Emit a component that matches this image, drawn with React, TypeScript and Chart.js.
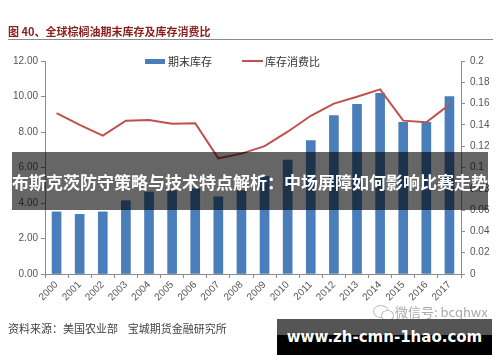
import React, { useEffect, useRef } from "react";
import { Chart, registerables } from "chart.js";

Chart.register(...registerables);

const years = ["2000","2001","2002","2003","2004","2005","2006","2007","2008","2009","2010","2011","2012","2013","2014","2015","2016","2017"];
const endingStocks = [3.5, 3.36, 3.5, 4.13, 4.62, 4.7, 4.8, 4.35, 4.7, 5.5, 6.42, 7.51, 8.92, 9.56, 10.18, 8.55, 8.55, 9.99];
const stockToUse = [0.151, 0.14, 0.13, 0.144, 0.1446, 0.141, 0.1415, 0.1086, 0.113, 0.12, 0.1336, 0.1486, 0.16, 0.1665, 0.1734, 0.144, 0.1424, 0.159];
const barLabel = "期末库存";
const lineLabel = "库存消费比";
const titleText = "图 40、全球棕榈油期末库存及库存消费比";
const sourceText = "资料来源：美国农业部    宝城期货金融研究所";
const bannerText = "布斯克茨防守策略与技术特点解析：中场屏障如何影响比赛走势";
const wechatText = "微信号: bcqhwx";
const siteText = "www.zh-cmn-1hao.com";

const BLUE = "#4A7EBB";
const RED = "#C0504D";
const AXIS = "#8c8c8c";
const TICK = "#555555";

export default function App() {
  const ref = useRef<HTMLCanvasElement | null>(null);
  useEffect(() => {
    if (!ref.current) return;
    const tickFont = { family: "'Liberation Sans', Arial, sans-serif", size: 10 };
    const chart = new Chart(ref.current, {
      type: "bar",
      data: {
        labels: years,
        datasets: [
          {
            type: "line",
            label: lineLabel,
            data: stockToUse,
            yAxisID: "y1",
            borderColor: RED,
            backgroundColor: RED,
            borderWidth: 2,
            pointRadius: 0,
            tension: 0,
            order: 0,
          } as any,
          {
            type: "bar",
            label: barLabel,
            data: endingStocks,
            yAxisID: "y",
            backgroundColor: BLUE,
            barThickness: 9,
            order: 1,
          },
        ],
      },
      options: {
        responsive: false,
        animation: false,
        layout: { padding: { top: 61, left: 0, right: 0, bottom: 0 }, autoPadding: false } as any,
        plugins: { legend: { display: false }, title: { display: false }, tooltip: { enabled: false } },
        scales: {
          x: {
            offset: true,
            grid: { display: true, drawOnChartArea: false, drawTicks: true, tickLength: 4, color: AXIS, offset: true },
            border: { display: true, color: AXIS },
            ticks: { minRotation: 45, maxRotation: 45, autoSkip: false, color: TICK, font: tickFont, padding: 1 },
            afterFit: (s: any) => { s.height = 88; },
          },
          y: {
            position: "left",
            min: 0,
            max: 12,
            grid: { display: true, drawOnChartArea: false, drawTicks: true, tickLength: 4, color: AXIS },
            border: { display: true, color: AXIS },
            ticks: { stepSize: 2, color: TICK, font: tickFont, padding: 3, callback: (v: any) => Number(v).toFixed(2) },
            afterFit: (s: any) => { s.width = 45; },
          },
          y1: {
            position: "right",
            min: 0,
            max: 0.2,
            grid: { display: true, drawOnChartArea: false, drawTicks: true, tickLength: 4, color: AXIS },
            border: { display: true, color: AXIS },
            ticks: { stepSize: 0.02, color: TICK, font: tickFont, padding: 5, callback: (v: any) => String(Number(Number(v).toFixed(2))) },
            afterFit: (s: any) => { s.width = 39; },
          },
        },
      },
    });
    return () => chart.destroy();
  }, []);

  const cjk = "'Noto Sans CJK SC', 'Noto Sans', sans-serif";
  return (
    <div style={{ position: "fixed", left: 0, top: 0, width: 500, height: 362, background: "#fff", overflow: "hidden" }}>
      <canvas ref={ref} width={500} height={362} style={{ position: "absolute", left: 0, top: 0, width: 500, height: 362 }} />
      <div style={{ position: "absolute", left: 8, top: 23, fontFamily: cjk, fontWeight: 700, fontSize: 11, lineHeight: "16px", color: "#8B2020", whiteSpace: "pre" }}>{titleText}</div>
      <div style={{ position: "absolute", left: 8, top: 39, width: 485, height: 0, borderTop: "1.5px solid #8a8a8a" }} />
      {/* legend */}
      <div style={{ position: "absolute", left: 145, top: 59, width: 20, height: 5, background: BLUE }} />
      <div style={{ position: "absolute", left: 168, top: 53, fontFamily: cjk, fontSize: 11, lineHeight: "16px", color: "#333" }}>{barLabel}</div>
      <div style={{ position: "absolute", left: 242, top: 60, width: 21, height: 2, background: RED }} />
      <div style={{ position: "absolute", left: 265, top: 53, fontFamily: cjk, fontSize: 11, lineHeight: "16px", color: "#333" }}>{lineLabel}</div>
      {/* banner */}
      <div style={{ position: "absolute", left: 12, top: 152, width: 476, height: 58, background: "rgba(0,0,0,0.6)", display: "flex", alignItems: "center", justifyContent: "center" }}>
        <span style={{ fontFamily: cjk, fontWeight: 700, fontSize: 17, color: "#fff", whiteSpace: "nowrap" }}>{bannerText}</span>
      </div>
      {/* watermark */}
      <div style={{ position: "absolute", left: 373, top: 305, width: 14, height: 11, border: "1.5px solid #bbb", borderRadius: "50%" }} />
      <div style={{ position: "absolute", left: 381, top: 310, width: 11, height: 9, border: "1.5px solid #bbb", borderRadius: "50%", background: "#fff" }} />
      <div style={{ position: "absolute", left: 395, top: 303, fontFamily: cjk, fontSize: 13, lineHeight: "18px", color: "#aaa", whiteSpace: "nowrap" }}>{wechatText}</div>
      {/* source */}
      <div style={{ position: "absolute", left: 8, top: 320, fontFamily: cjk, fontSize: 11, lineHeight: "16px", color: "#444", whiteSpace: "pre" }}>{sourceText}</div>
      {/* site box */}
      <div style={{ position: "absolute", left: 277, top: 319, width: 215, height: 36, background: "linear-gradient(#555 0px, #555 16px, #000 16px, #000 36px)", display: "flex", alignItems: "center", justifyContent: "center" }}>
        <span style={{ fontFamily: "'DejaVu Sans', sans-serif", fontWeight: 700, fontSize: 15, color: "#fff", whiteSpace: "nowrap" }}>{siteText}</span>
      </div>
    </div>
  );
}
